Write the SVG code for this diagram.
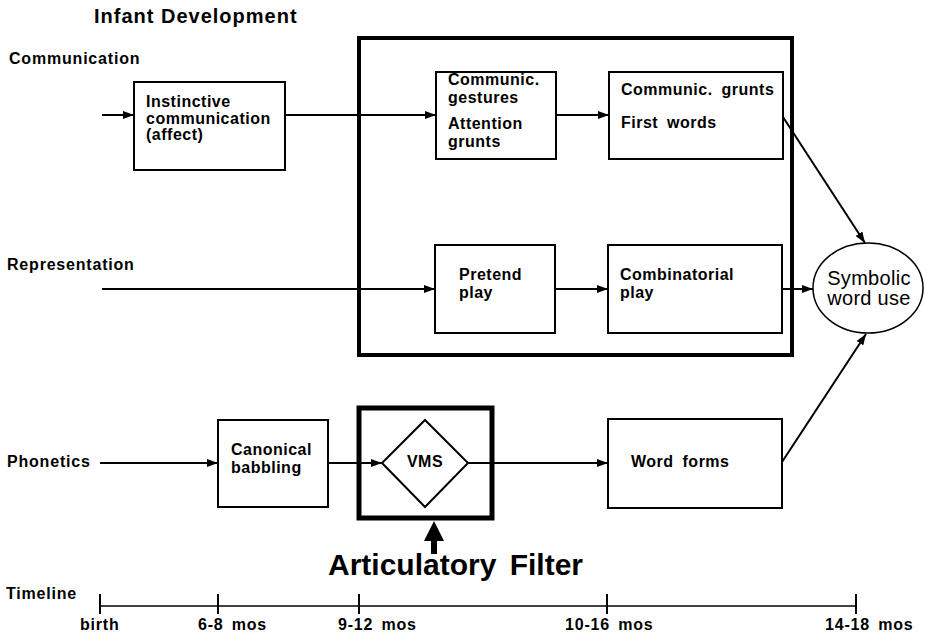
<svg xmlns="http://www.w3.org/2000/svg" width="926" height="636" viewBox="0 0 926 636">
<style>
text{font-family:"Liberation Sans",Arial,Helvetica,sans-serif;fill:#000}
.b{font-weight:bold;font-size:16px;letter-spacing:0.5px;word-spacing:4px}
.lab{font-weight:bold;font-size:16px;letter-spacing:0.8px;word-spacing:3px}
.box{fill:#fff;stroke:#000;stroke-width:2}
.con{fill:none;stroke:#000;stroke-width:2}
</style>
<defs>
<marker id="ah" markerUnits="userSpaceOnUse" markerWidth="12" markerHeight="8" refX="11" refY="4" orient="auto">
<path d="M0,0 L11,4 L0,8 z" fill="#000"/>
</marker>
</defs>
<rect width="926" height="636" fill="#fff"/>
<text x="94" y="23" style="font-weight:bold;font-size:20px;letter-spacing:1px">Infant Development</text>
<text class="lab" x="9" y="64">Communication</text>
<text class="lab" x="7" y="270">Representation</text>
<text class="lab" x="7" y="467">Phonetics</text>

<g id="connectors">
<line class="con" x1="102" y1="115" x2="134" y2="115" marker-end="url(#ah)"/>
<line class="con" x1="285" y1="115" x2="436" y2="115" marker-end="url(#ah)"/>
<line class="con" x1="556" y1="115" x2="609" y2="115" marker-end="url(#ah)"/>
<line class="con" x1="783" y1="117" x2="865" y2="243" marker-end="url(#ah)"/>
<line class="con" x1="102" y1="289" x2="435" y2="289" marker-end="url(#ah)"/>
<line class="con" x1="555" y1="289" x2="608" y2="289" marker-end="url(#ah)"/>
<line class="con" x1="782" y1="289" x2="813" y2="289" marker-end="url(#ah)"/>
<line class="con" x1="100" y1="463" x2="218" y2="463" marker-end="url(#ah)"/>
<line class="con" x1="328" y1="463" x2="382" y2="463" marker-end="url(#ah)"/>
<line class="con" x1="468" y1="463" x2="608" y2="463" marker-end="url(#ah)"/>
<line class="con" x1="782" y1="462" x2="866" y2="334" marker-end="url(#ah)"/>
</g>

<g id="group-box">
<rect x="359" y="38" width="433" height="317" fill="none" stroke="#000" stroke-width="4"/>
</g>

<g id="instinctive">
<rect class="box" x="134" y="82" width="151" height="88"/>
<text class="b" x="146" y="107">Instinctive</text>
<text class="b" x="146" y="124">communication</text>
<text class="b" x="146" y="140">(affect)</text>
</g>
<g id="gestures">
<rect class="box" x="436" y="72" width="120" height="87"/>
<text class="b" x="448" y="85">Communic.</text>
<text class="b" x="448" y="103">gestures</text>
<text class="b" x="448" y="129">Attention</text>
<text class="b" x="448" y="147">grunts</text>
</g>
<g id="grunts">
<rect class="box" x="609" y="72" width="174" height="87"/>
<text class="b" x="621" y="95">Communic. grunts</text>
<text class="b" x="621" y="128">First words</text>
</g>
<g id="pretend">
<rect class="box" x="435" y="245" width="120" height="88"/>
<text class="b" x="459" y="280">Pretend</text>
<text class="b" x="459" y="298">play</text>
</g>
<g id="combinatorial">
<rect class="box" x="608" y="245" width="174" height="88"/>
<text class="b" x="620" y="280">Combinatorial</text>
<text class="b" x="620" y="298">play</text>
</g>
<g id="symbolic">
<ellipse cx="868" cy="288" rx="55" ry="45" fill="#fff" stroke="#000" stroke-width="1.5"/>
<text x="869" y="285" text-anchor="middle" style="font-size:20px;letter-spacing:0.3px">Symbolic</text>
<text x="869" y="305" text-anchor="middle" style="font-size:20px;letter-spacing:0.3px">word use</text>
</g>
<g id="canonical">
<rect class="box" x="218" y="420" width="110" height="87"/>
<text class="b" x="231" y="455">Canonical</text>
<text class="b" x="231" y="473">babbling</text>
</g>
<g id="vms">
<rect x="359" y="408" width="133" height="110" fill="none" stroke="#000" stroke-width="5"/>
<polygon points="425,420 468,463 425,507 382,463" fill="#fff" stroke="#000" stroke-width="2"/>
<text class="b" x="425" y="467" text-anchor="middle">VMS</text>
</g>
<g id="wordforms">
<rect class="box" x="608" y="419" width="174" height="89"/>
<text class="b" x="631" y="467">Word forms</text>
</g>
<g id="filter">
<polygon points="431,554 437,554 437,541 444,541 434,521 424,541 431,541" fill="#000"/>
<text x="328" y="575" style="font-weight:bold;font-size:30px;word-spacing:5px">Articulatory Filter</text>
</g>
<g id="timeline">
<text class="lab" x="6" y="599">Timeline</text>
<line x1="100" y1="606" x2="856" y2="606" stroke="#000" stroke-width="1.5"/>
<line x1="100" y1="594" x2="100" y2="614" stroke="#000" stroke-width="2"/>
<line x1="218" y1="594" x2="218" y2="614" stroke="#000" stroke-width="2"/>
<line x1="359" y1="594" x2="359" y2="614" stroke="#000" stroke-width="2"/>
<line x1="607" y1="594" x2="607" y2="614" stroke="#000" stroke-width="2"/>
<line x1="856" y1="594" x2="856" y2="614" stroke="#000" stroke-width="2"/>
<text class="lab" x="80" y="630">birth</text>
<text class="lab" x="198" y="630">6-8 mos</text>
<text class="lab" x="338" y="630">9-12 mos</text>
<text class="lab" x="565" y="630">10-16 mos</text>
<text class="lab" x="825" y="630">14-18 mos</text>
</g>
</svg>
